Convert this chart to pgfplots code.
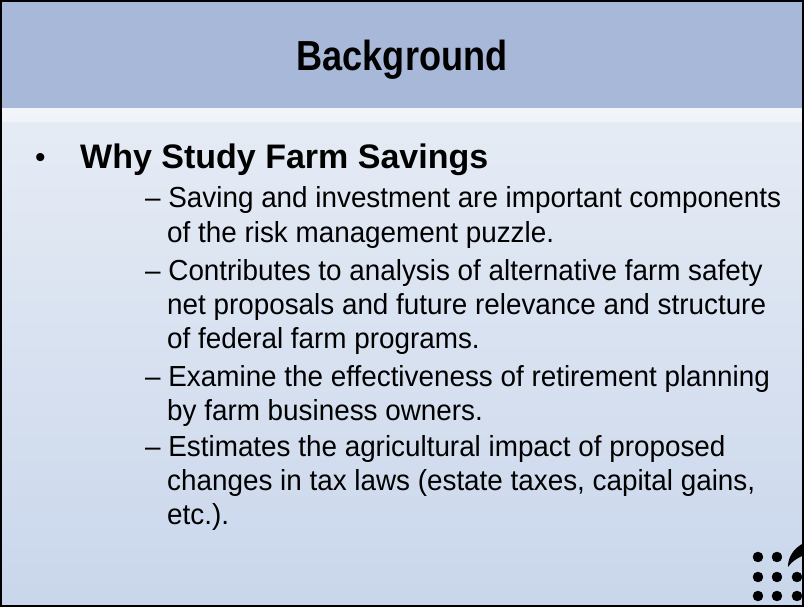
\documentclass[border=0pt]{standalone}
\usepackage{graphicx}
\usepackage{pgfplots}
\pgfplotsset{compat=1.18}
\usepackage{fontspec}
\setmainfont{Liberation Sans}
\definecolor{headblue}{HTML}{A8B8D8}
\definecolor{bodytop}{HTML}{E6ECF5}
\definecolor{bodybot}{HTML}{C9D6EB}

% condensed text helpers (the slide text is a bit narrow)
\newcommand{\bodyline}[1]{\scalebox{0.96}[1]{#1}}

\begin{document}
\begin{tikzpicture}
\begin{axis}[
  scale only axis, width=804bp, height=607bp,
  xmin=0, xmax=804, ymin=0, ymax=607, y dir=reverse,
  axis lines=none, clip=false,
]
% slide background
\fill[top color=bodytop, bottom color=bodybot] (axis cs:0,108) rectangle (axis cs:804,607);
\fill[headblue] (axis cs:0,0) rectangle (axis cs:804,108);
\fill[white, opacity=0.45] (axis cs:0,108) rectangle (axis cs:804,122);

\node[anchor=base, inner sep=0pt, font=\fontsize{42bp}{48bp}\selectfont\bfseries]
  at (axis cs:402,70) {\scalebox{0.86}[1]{Background}};

\node[anchor=base west, inner sep=0pt, font=\fontsize{30bp}{36bp}\selectfont] at (axis cs:35,167) {•};
\node[anchor=base west, inner sep=0pt, font=\fontsize{34bp}{38bp}\selectfont\bfseries]
  at (axis cs:80,168) {\scalebox{1.0}[1]{Why Study Farm Savings}};

\begin{scope}[every node/.style={anchor=base west, inner sep=0pt, font=\fontsize{29bp}{34bp}\selectfont}]
\node at (axis cs:145,207) {\bodyline{– Saving and investment are important components}};
\node at (axis cs:167,242) {\bodyline{of the risk management puzzle.}};
\node at (axis cs:145,280) {\bodyline{– Contributes to analysis of alternative farm safety}};
\node at (axis cs:167,314) {\bodyline{net proposals and future relevance and structure}};
\node at (axis cs:167,348) {\bodyline{of federal farm programs.}};
\node at (axis cs:145,386) {\bodyline{– Examine the effectiveness of retirement planning}};
\node at (axis cs:167,420) {\bodyline{by farm business owners.}};
\node at (axis cs:145,457) {\bodyline{– Estimates the agricultural impact of proposed}};
\node at (axis cs:167,491) {\bodyline{changes in tax laws (estate taxes, capital gains,}};
\node at (axis cs:167,525) {\bodyline{etc.).}};
\end{scope}

% logo dots
\addplot[only marks, mark=*, mark size=5bp, color=black] coordinates {
  (758,557) (777,557)
  (758,577) (777,577) (797,577)
  (758,596) (777,596) (797,596)
};
% feather
\fill[black] (axis cs:788,567) .. controls (axis cs:788,555) and (axis cs:796,547) .. (axis cs:804,543)
  -- (axis cs:804,555) .. controls (axis cs:798,558) and (axis cs:792,561) .. (axis cs:788,567) -- cycle;

\draw[black, line width=2.5bp] (axis cs:1.2,1.2) rectangle (axis cs:802.8,605.8);
\end{axis}
\end{tikzpicture}
\end{document}
